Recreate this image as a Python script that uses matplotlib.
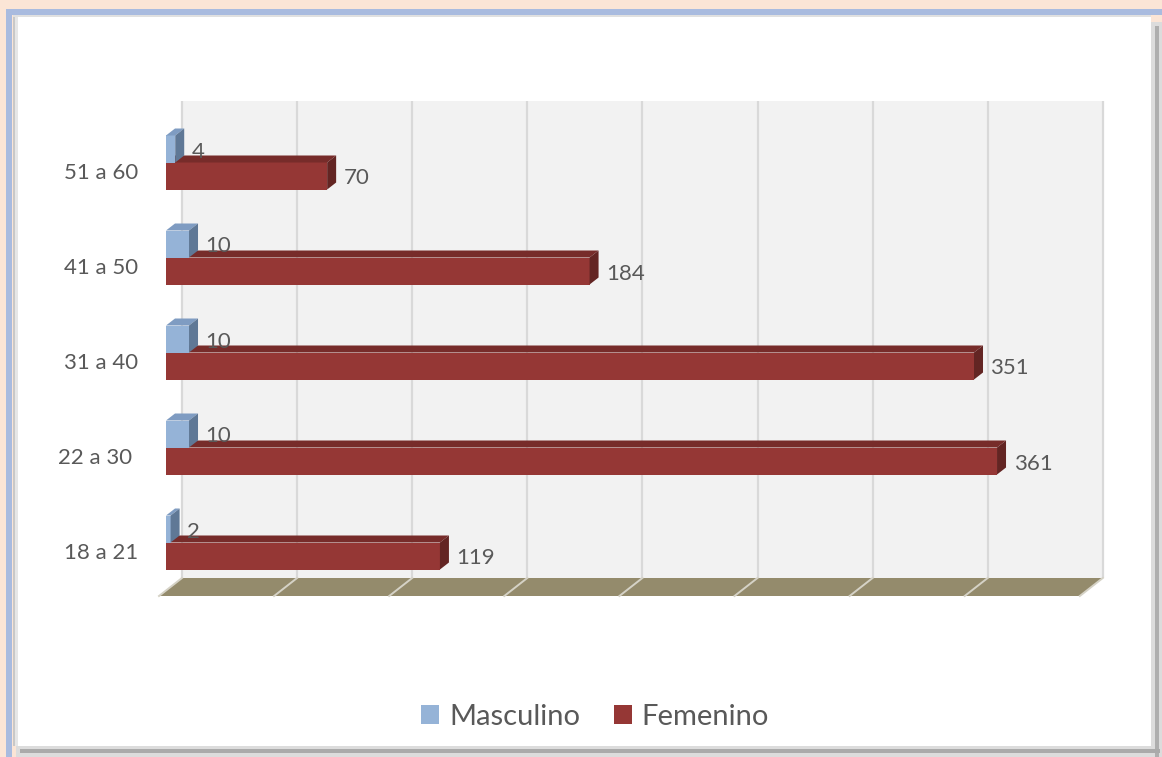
import matplotlib
matplotlib.use('Agg')
import matplotlib.pyplot as plt
from matplotlib.patches import Rectangle, Polygon
import numpy as np

categories = ['18 a 21', '22 a 30 ', '31 a 40', '41 a 50', '51 a 60']
masculino = [2, 10, 10, 10, 4]
femenino = [119, 361, 351, 184, 70]
series_names = ['Masculino', 'Femenino']
x_max = 400
grid_step = 50

plt.rcParams['font.family'] = ['Lato', 'DejaVu Sans']
TXT = '#595959'

W, H = 1162, 757
DPI = 100
fig = plt.figure(figsize=(W / DPI, H / DPI), dpi=DPI, facecolor='#FBE5D6')


def fx(px):
    return px / W


def fy(py):
    return 1 - py / H


def frect(x0, y0, x1, y1, color, z):
    fig.add_artist(Rectangle((fx(x0), fy(y1)), fx(x1) - fx(x0), fy(y0) - fy(y1),
                             transform=fig.transFigure, facecolor=color,
                             edgecolor='none', zorder=z))


# ---- outer frame ----
frect(6, 9, 1162, 15, '#A9BBDF', -20)
frect(6, 9, 12, 757, '#A9BBDF', -20)
frect(1150, 22, 1162, 757, '#DCDCDC', -19)
frect(1155, 26, 1159, 757, '#AEAEAE', -18)
frect(16, 745, 1162, 757, '#DCDCDC', -19)
frect(20, 749, 1160, 753, '#AAAAAA', -18)
frect(13, 15, 1151, 746, '#FFFFFF', -17)
frect(13, 15, 15, 746, '#C8C8C8', -16)
frect(15, 15, 18, 746, '#E6E6E6', -16)
frect(13, 15, 1151, 17, '#E0E0E0', -16)

# ---- axes: x in values, y in category units ----
X0, XPX = 166, 920.8          # pixel of value 0, pixel width of 0..x_max
SX = XPX / x_max              # px per value unit
Y0, SY = 551, 95.0            # pixel of category 0, px per category
ax_top, ax_bot = 90, 620
ax = fig.add_axes([fx(X0), fy(ax_bot), XPX / W, (ax_bot - ax_top) / H])
ax.set_xlim(0, x_max)
ax.set_ylim((Y0 - ax_bot) / SY, (Y0 - ax_top) / SY)
ax.set_facecolor('none')
for s in ax.spines.values():
    s.set_visible(False)


def px2x(p):
    return (p - X0) / SX


def py2y(p):
    return (Y0 - p) / SY


# back wall
wall_dx = 16 / SX
wall_b, wall_t = py2y(578), py2y(101)
ax.add_patch(Rectangle((wall_dx, wall_b), x_max, wall_t - wall_b,
                       facecolor='#F2F2F2', edgecolor='none', zorder=0, clip_on=False))
# floor
floor_front = py2y(596)
fdx = -23 / SX
ax.add_patch(Polygon([(wall_dx, wall_b), (x_max + wall_dx, wall_b),
                      (x_max + wall_dx + fdx, floor_front), (wall_dx + fdx, floor_front)],
                     closed=True, facecolor='#948B6C', edgecolor='none', zorder=0.2,
                     clip_on=False))
for v in np.arange(0, x_max + 1, grid_step):
    xw = v + wall_dx
    ax.plot([xw, xw], [wall_b, wall_t], color='#D9D9D9', lw=1.6, zorder=0.5,
            clip_on=False, solid_capstyle='butt')
    ax.plot([xw, xw + fdx], [wall_b, floor_front], color='#D5D2C6', lw=1.4, zorder=0.5,
            clip_on=False)

# bars
ypos = np.arange(len(categories))
h = 27 / SY
red_y = ypos - 5 / SY
blue_y = ypos + 22 / SY
dxu, dyu = 9 / SX, 7 / SY

ax.barh(red_y, femenino, height=h, color='#953735', zorder=2)
ax.barh(blue_y, masculino, height=h, color='#95B3D7', zorder=3)


def faces(vals, ys, top_c, side_c, z):
    for v, yc in zip(vals, ys):
        b, t = yc - h / 2, yc + h / 2
        ax.add_patch(Polygon([(0, t), (v, t), (v + dxu, t + dyu), (dxu, t + dyu)],
                             closed=True, facecolor=top_c, edgecolor='none', zorder=z,
                             clip_on=False))
        ax.add_patch(Polygon([(v, b), (v, t), (v + dxu, t + dyu), (v + dxu, b + dyu)],
                             closed=True, facecolor=side_c, edgecolor='none', zorder=z,
                             clip_on=False))


faces(femenino, red_y, '#772C2A', '#632523', 2)
faces(masculino, blue_y, '#7F9CC2', '#5F7896', 3)

lab_dx = 16.5 / SX
for v, yc in zip(femenino, red_y):
    ax.text(v + lab_dx, yc - 2.5 / SY, str(v), ha='left', va='center', fontsize=16,
            color=TXT, zorder=4)
for v, yc in zip(masculino, blue_y):
    ax.text(v + lab_dx, yc - 2.5 / SY, str(v), ha='left', va='center', fontsize=16,
            color=TXT, zorder=4)

ax.set_xticks([])
ax.set_yticks(ypos)
ax.set_yticklabels(categories)
ax.tick_params(axis='y', length=0, pad=20, labelsize=16, labelcolor=TXT)

handles = [Rectangle((0, 0), 1, 1, facecolor='#95B3D7', edgecolor='none'),
           Rectangle((0, 0), 1, 1, facecolor='#953735', edgecolor='none')]
fig.legend(handles, series_names, loc='center', bbox_to_anchor=(fx(595), fy(717)),
           ncol=2, frameon=False, fontsize=21, handlelength=0.62, handleheight=0.62,
           handletextpad=0.35, columnspacing=1.15, labelcolor=TXT)

fig.savefig('out.png', dpi=DPI, facecolor=fig.get_facecolor())
